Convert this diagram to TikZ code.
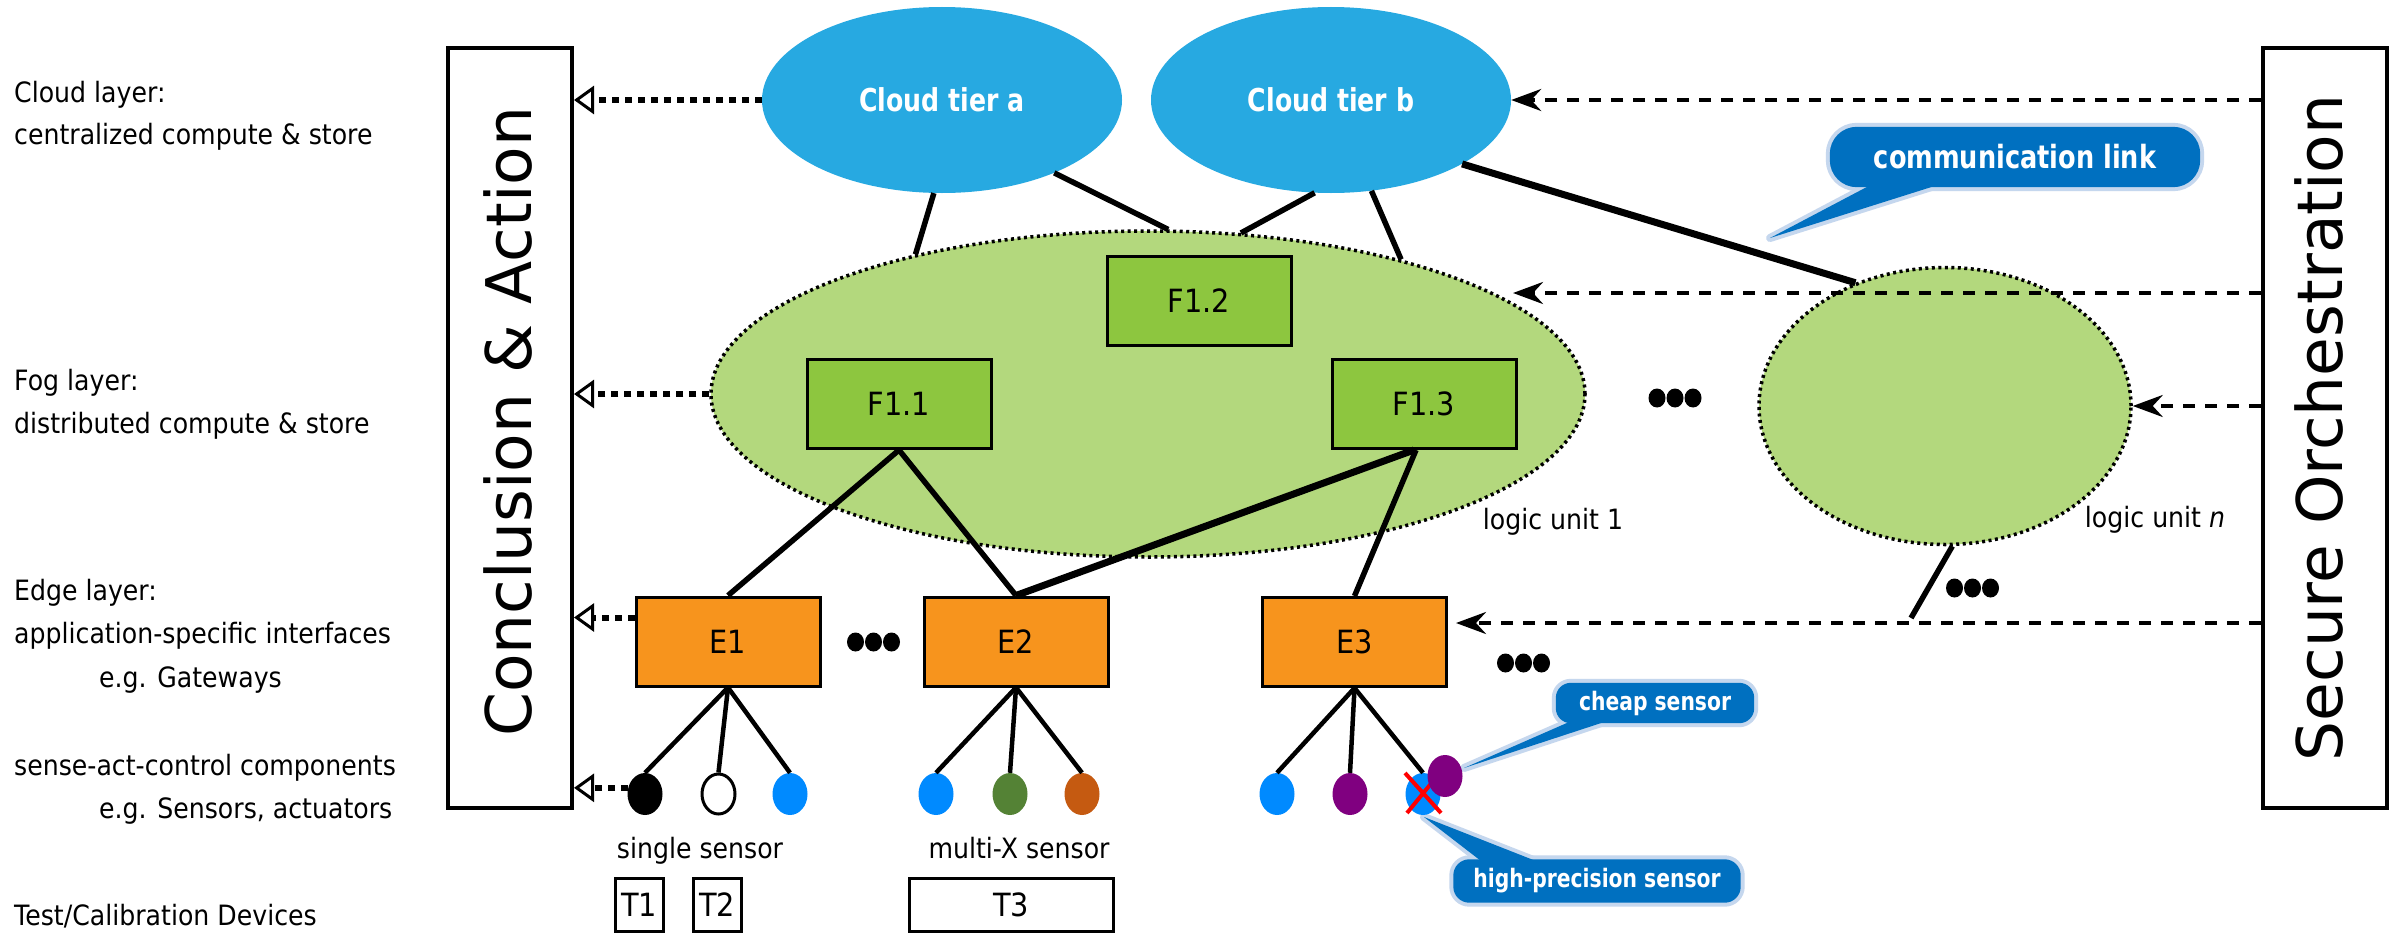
\documentclass[tikz,border=0pt]{standalone}
\usepackage{fontspec}
\newfontfamily\rfont[FakeStretch=0.9]{DejaVu Sans}
\newfontfamily\bfontx[FakeStretch=0.8]{DejaVu Sans}
\newfontfamily\vfont{DejaVu Sans}
\usetikzlibrary{shapes.geometric,arrows.meta,backgrounds}
\definecolor{cloudblue}{RGB}{39,169,225}
\definecolor{foggreen}{RGB}{179,216,125}
\definecolor{fgreen}{RGB}{141,198,63}
\definecolor{eorange}{RGB}{247,148,29}
\definecolor{calldark}{RGB}{0,112,192}
\definecolor{callglow}{RGB}{197,215,238}
\definecolor{sblue}{RGB}{0,138,255}
\definecolor{sgreen}{RGB}{84,130,53}
\definecolor{sorange}{RGB}{197,90,17}
\definecolor{spurple}{RGB}{128,0,128}
\tikzset{
  lefttxt/.style={anchor=base west, inner sep=0pt, font=\rfont\fontsize{28}{34}\selectfont},
  plaintxt/.style={anchor=base, inner sep=0pt, font=\rfont\fontsize{28}{34}\selectfont},
  cloudnode/.style={ellipse, fill=cloudblue, minimum width=360pt, minimum height=186pt, inner sep=0pt, text=white, font=\bfontx\bfseries\fontsize{31.5}{36}\selectfont},
  logicunit/.style={ellipse, fill=foggreen, draw=black, line width=3.5pt, dash pattern=on 3pt off 3.5pt, inner sep=0pt},
  fbox/.style={rectangle, fill=fgreen, draw=black, line width=3pt, minimum width=184pt, minimum height=89pt, inner sep=0pt, font=\rfont\fontsize{32}{38}\selectfont},
  ebox/.style={rectangle, fill=eorange, draw=black, line width=3pt, minimum width=184pt, minimum height=89pt, inner sep=0pt, font=\rfont\fontsize{32}{38}\selectfont},
  tbox/.style={rectangle, draw=black, line width=3pt, minimum height=53pt, inner sep=0pt, font=\rfont\fontsize{32}{38}\selectfont},
  sensor/.style={ellipse, minimum width=35pt, minimum height=42pt, inner sep=0pt},
  link/.style={line width=5.5pt},
  biglink/.style={line width=7pt},
  sublink/.style={line width=4.5pt},
  concl/.style={-{Triangle[open, length=20pt, width=28pt, line width=3pt]}, line width=6pt, dash pattern=on 7pt off 6pt},
  orch/.style={-{Stealth[length=30pt, width=22pt, inset=10pt]}, line width=4pt, dash pattern=on 12pt off 10pt},
  sidebox/.style={rectangle, draw=black, line width=4pt, minimum width=124pt, minimum height=760pt, inner sep=0pt},
  sidetxt/.style={rotate=90, anchor=base, inner sep=0pt, font=\vfont\fontsize{63}{70}\selectfont},
  calltxt/.style={rectangle, inner sep=0pt, text=white, font=\bfontx\bfseries\fontsize{#1}{#1}\selectfont},
  glowline/.style={draw=callglow, line width=8pt, line join=round},
  darkfill/.style={fill=calldark},
  xmark/.style={draw=red, line width=4pt}
}
\newcommand\tdots[2]{\foreach \dx in {-18,0,18}{\fill (#1+\dx,#2) ellipse [x radius=8.5pt, y radius=9.5pt];}}
\begin{document}
\begin{tikzpicture}[x=1pt,y=-1pt]
\useasboundingbox (0,0) rectangle (2389,934);
\begin{pgfonlayer}{background}
\fill[white] (0,0) rectangle (2389,934);
\end{pgfonlayer}

% left layer texts
\node[lefttxt] (l1) at (14,102) {Cloud layer:};
\node[lefttxt] (l2) at (14,144) {centralized compute \& store};
\node[lefttxt] (l3) at (14,390) {Fog layer:};
\node[lefttxt] (l4) at (14,433) {distributed compute \& store};
\node[lefttxt] (l5) at (14,600) {Edge layer:};
\node[lefttxt] (l6) at (14,643) {application-specific interfaces};
\node[lefttxt] (l7) at (99,687) {e.g. Gateways};
\node[lefttxt] (l8) at (14,775) {sense-act-control components};
\node[lefttxt] (l9) at (99,818) {e.g. Sensors, actuators};
\node[lefttxt] (l10) at (14,925) {Test/Calibration Devices};

% side boxes
\node[sidebox] (CA) at (510,428) {};
\node[sidetxt] (CAt) at (531,422) {Conclusion \& Action};
\node[sidebox] (SO) at (2325,428) {};
\node[sidetxt] (SOt) at (2342,428) {Secure Orchestration};

% cloud and fog
\node[cloudnode] (ca) at (942,100) {Cloud tier a};
\node[cloudnode] (cb) at (1331,100) {Cloud tier b};
\node[logicunit, minimum width=874pt, minimum height=326pt] (fog) at (1148,394) {};
\node[logicunit, minimum width=372pt, minimum height=277pt] (lun) at (1945,406) {};
\node[fbox] (F12) at (1199,301) {F1.2};
\node[fbox] (F11) at (899,404) {F1.1};
\node[fbox] (F13) at (1424,404) {F1.3};

\draw[link] (ca.-95.5) -- (fog.149);
\draw[link] (ca.-33) -- (fog.83);
\draw[link] (cb.-100) -- (fog.60);
\draw[link] (cb.-66) -- (fog.28);

% edge
\node[ebox] (E1) at (728,641.5) {E1};
\node[ebox] (E2) at (1016,641.5) {E2};
\node[ebox] (E3) at (1354.5,642) {E3};

\draw[link] (F11.south) -- (E1.north);
\draw[link] (F11.south) -- (E2.north);
\draw[biglink] ([xshift=-10pt]F13.south) -- (E2.north);
\draw[link] ([xshift=-8pt]F13.south) -- (E3.north);

% sensors
\node[sensor, fill=black] (s1) at (645,794) {};
\node[sensor, fill=white, draw=black, line width=3pt, minimum width=33pt, minimum height=40pt] (s2) at (718.5,794) {};
\node[sensor, fill=sblue] (s3) at (790,794) {};
\node[sensor, fill=sblue] (s4) at (936,794) {};
\node[sensor, fill=sgreen] (s5) at (1010,794) {};
\node[sensor, fill=sorange] (s6) at (1082,794) {};
\node[sensor, fill=sblue] (s7) at (1277,794) {};
\node[sensor, fill=spurple] (s8) at (1350,794) {};
\node[sensor, fill=sblue] (s9) at (1423,794) {};
\draw[xmark] ([xshift=-18pt,yshift=21pt]s9.center) -- ([xshift=18pt,yshift=-19pt]s9.center);
\draw[xmark] ([xshift=-16pt,yshift=-19pt]s9.center) -- ([xshift=15pt,yshift=19pt]s9.center);
\node[sensor, fill=spurple] (cs) at (1445,776) {};

\foreach \s in {s1,s2,s3}{\draw[sublink] (E1.south) -- (\s.north);}
\foreach \s in {s4,s5,s6}{\draw[sublink] (E2.south) -- (\s.north);}
\foreach \s in {s7,s8,s9}{\draw[sublink] (E3.south) -- (\s.north);}

% test devices
\node[tbox, minimum width=48pt] (T1) at (639,904.5) {T1};
\node[tbox, minimum width=48pt] (T2) at (717,904.5) {T2};
\node[tbox, minimum width=204pt] (T3) at (1011,904.5) {T3};
\node[plaintxt] (ss) at (700,858) {single sensor};
\node[plaintxt] (ms) at (1019,858) {multi-X sensor};

% logic unit n links
\draw[biglink] (cb.-26.6) -- (lun.126);
\coordinate (lunend) at (1911,618);
\draw[link] (lun.-87) -- (lunend);

% arrows to Conclusion & Action
\draw[concl] (ca.west) -- (ca.west -| CA.east);
\draw[concl] (fog.west) -- (fog.west -| CA.east);
\coordinate (e1a) at ([yshift=24pt]E1.west);
\draw[concl] (e1a) -- (e1a -| CA.east);
\draw[concl] (s1.160) -- (s1.160 -| CA.east);

% arrows from Secure Orchestration
\coordinate (tip2) at (1513,293);
\coordinate (tip4) at (1456,623);
\draw[orch] (SO.west |- cb.east) -- (cb.east);
\draw[orch] (SO.west |- tip2) -- (tip2);
\draw[orch] (SO.west |- lun.east) -- (lun.east);
\draw[orch] (SO.west |- tip4) -- (tip4);

% dots
\tdots{873.5}{642}
\tdots{1523.5}{663}
\tdots{1675}{398}
\tdots{1972.5}{588}

% labels
\node[plaintxt] (lu1) at (1553,529) {logic unit 1};
\node[plaintxt] (lun2) at (2155,527) {logic unit \textit{n}};

% callouts
\node[calltxt=32, minimum width=370pt, minimum height=60pt] (cl) at (2015,157) {communication link};
\coordinate (cltip) at (1770,238);
\node[calltxt=25.4, minimum width=198pt, minimum height=40pt] (chs) at (1655,703) {cheap sensor};
\coordinate (chtip) at (1464,768);
\node[calltxt=25.4, minimum width=287pt, minimum height=43pt] (hps) at (1597,881) {high-precision sensor};
\coordinate (hptip) at (1424,817);
\begin{pgfonlayer}{background}
  \path[glowline, rounded corners=27pt] (cl.south west) rectangle (cl.north east);
  \path[glowline] ([xshift=48pt,yshift=6pt]cl.south west) -- (cltip) -- ([xshift=120pt,yshift=6pt]cl.south west) -- cycle;
  \path[darkfill, rounded corners=27pt] (cl.south west) rectangle (cl.north east);
  \path[darkfill] ([xshift=48pt,yshift=6pt]cl.south west) -- (cltip) -- ([xshift=120pt,yshift=6pt]cl.south west) -- cycle;

  \path[glowline, rounded corners=15pt] (chs.south west) rectangle (chs.north east);
  \path[glowline] ([xshift=22pt,yshift=5pt]chs.south west) -- (chtip) -- ([xshift=60pt,yshift=5pt]chs.south west) -- cycle;
  \path[darkfill, rounded corners=15pt] (chs.south west) rectangle (chs.north east);
  \path[darkfill] ([xshift=22pt,yshift=5pt]chs.south west) -- (chtip) -- ([xshift=60pt,yshift=5pt]chs.south west) -- cycle;

  \path[glowline, rounded corners=16pt] (hps.south west) rectangle (hps.north east);
  \path[glowline] ([xshift=32pt,yshift=-5pt]hps.north west) -- (hptip) -- ([xshift=91pt,yshift=-5pt]hps.north west) -- cycle;
  \path[darkfill, rounded corners=16pt] (hps.south west) rectangle (hps.north east);
  \path[darkfill] ([xshift=32pt,yshift=-5pt]hps.north west) -- (hptip) -- ([xshift=91pt,yshift=-5pt]hps.north west) -- cycle;
\end{pgfonlayer}
\end{tikzpicture}
\end{document}
